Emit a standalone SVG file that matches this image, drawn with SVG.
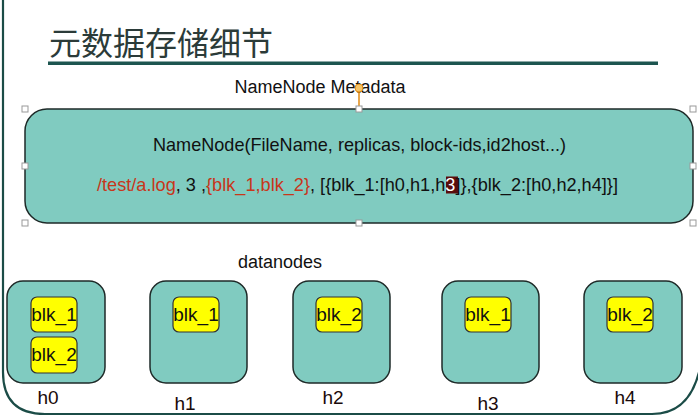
<svg xmlns="http://www.w3.org/2000/svg" width="698" height="416" viewBox="0 0 698 416">
<style>
  text { font-family: "Liberation Sans", Arial, sans-serif; fill: #111; }
  .title { font-family: "Noto Sans CJK SC", sans-serif; font-size: 32px; fill: #2b3b39; }
  .node { fill: #80cbc0; stroke: #1e2a28; stroke-width: 1.5; }
  .blk { fill: #ffff00; stroke: #333; stroke-width: 1.2; }
  .blkt { font-size: 19px; text-anchor: middle; }
  .host { font-size: 19px; text-anchor: middle; fill: #1a0a0a; }
  .handle { fill: #fff; stroke: #999; stroke-width: 1; }
  .red { fill: #c8361a; }
</style>
<rect width="698" height="416" fill="#fff"/>
<path d="M3,0 V372 Q3,414 45,414 H652 Q690,414 700,368" fill="none" stroke="#1b4c47" stroke-width="2.2"/>
<text class="title" x="49" y="55">元数据存储细节</text>
<rect x="48" y="61.5" width="610" height="3.5" fill="#1d5550"/>
<text x="320" y="93" font-size="18" text-anchor="middle">NameNode Metadata</text>

<g id="namenode">
  <rect class="node" x="25" y="109" width="668" height="114" rx="22"/>
  <text x="153" y="151" font-size="18.2" textLength="413" lengthAdjust="spacingAndGlyphs">NameNode(FileName, replicas, block-ids,id2host...)</text>
  <rect x="446" y="176.5" width="12" height="17" fill="#5a0c0c"/>
  <text x="97" y="191" font-size="18.2" textLength="521" lengthAdjust="spacingAndGlyphs"><tspan class="red">/test/a.log</tspan>, 3 ,<tspan class="red">{blk_1,blk_2}</tspan>, [{blk_1:[h0,h1,h<tspan fill="#fff">3</tspan>]},{blk_2:[h0,h2,h4]}]</text>
</g>

<g id="connectors">
  <line x1="359" y1="88" x2="359" y2="109" stroke="#e08a10" stroke-width="1.5"/>
  <circle cx="359" cy="88" r="4" fill="#f6c468" stroke="#e08a10" stroke-width="1"/>
</g>

<g id="selection-handles">
  <rect class="handle" x="22" y="106" width="6" height="6"/>
  <rect class="handle" x="356" y="106" width="6" height="6"/>
  <rect class="handle" x="690" y="106" width="6" height="6"/>
  <rect class="handle" x="22" y="163" width="6" height="6"/>
  <rect class="handle" x="690" y="163" width="6" height="6"/>
  <rect class="handle" x="22" y="220" width="6" height="6"/>
  <rect class="handle" x="356" y="220" width="6" height="6"/>
  <rect class="handle" x="690" y="220" width="6" height="6"/>
</g>

<text x="280" y="268" font-size="18" text-anchor="middle">datanodes</text>

<g id="h0">
  <rect class="node" x="7" y="281" width="98" height="102" rx="16"/>
  <rect class="blk" x="31" y="297" width="46" height="35" rx="6"/>
  <text class="blkt" x="54" y="321">blk_1</text>
  <rect class="blk" x="31" y="337" width="46" height="36" rx="6"/>
  <text class="blkt" x="54" y="361">blk_2</text>
  <text class="host" x="48" y="404">h0</text>
</g>
<g id="h1">
  <rect class="node" x="150" y="281" width="97" height="102" rx="16"/>
  <rect class="blk" x="173" y="297" width="46" height="35" rx="6"/>
  <text class="blkt" x="196" y="321">blk_1</text>
  <text class="host" x="185" y="410">h1</text>
</g>
<g id="h2">
  <rect class="node" x="293" y="281" width="97" height="102" rx="16"/>
  <rect class="blk" x="316" y="297" width="46" height="35" rx="6"/>
  <text class="blkt" x="339" y="321">blk_2</text>
  <text class="host" x="333" y="404">h2</text>
</g>
<g id="h3">
  <rect class="node" x="442" y="281" width="97" height="102" rx="16"/>
  <rect class="blk" x="465" y="297" width="46" height="35" rx="6"/>
  <text class="blkt" x="488" y="321">blk_1</text>
  <text class="host" x="488" y="410">h3</text>
</g>
<g id="h4">
  <rect class="node" x="584" y="281" width="98" height="102" rx="16"/>
  <rect class="blk" x="607" y="297" width="46" height="35" rx="6"/>
  <text class="blkt" x="630" y="321">blk_2</text>
  <text class="host" x="625" y="404">h4</text>
</g>
</svg>
